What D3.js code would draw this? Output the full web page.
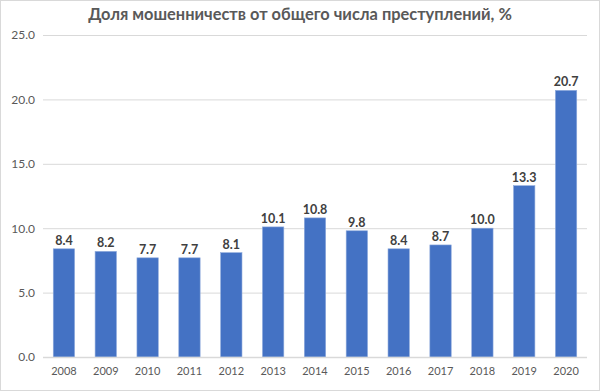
<!DOCTYPE html>
<html lang="ru">
<head>
    <meta charset="UTF-8">
    <title>Доля мошенничеств</title>
    <script src="https://cdn.jsdelivr.net/npm/d3@7/dist/d3.min.js"></script>
    <style>
        body { margin: 0; background: #fff; }
        svg { display: block; font-family: Lato, "Open Sans", sans-serif; }
    </style>
</head>
<body>
    <svg width="600" height="391"></svg>

    <script>
        const years = ['2008', '2009', '2010', '2011', '2012', '2013', '2014',
                       '2015', '2016', '2017', '2018', '2019', '2020'];
        const shares = [8.4, 8.2, 7.7, 7.7, 8.1, 10.1, 10.8, 9.8, 8.4, 8.7, 10.0, 13.3, 20.7];
        const yTicks = [0, 5, 10, 15, 20, 25];
        const title = 'Доля мошенничеств от общего числа преступлений, %';

        const svg = d3.select('svg');
        const margin = {top: 35, right: 13, bottom: 34, left: 43};
        const width = 600 - margin.left - margin.right;
        const height = 391 - margin.top - margin.bottom;

        // chart frame
        svg.append('rect')
            .attr('x', 0.5).attr('y', 0.5)
            .attr('width', 599).attr('height', 390)
            .attr('fill', '#fff')
            .attr('stroke', '#d9d9d9');

        svg.append('text')
            .attr('x', 300).attr('y', 20)
            .attr('text-anchor', 'middle')
            .attr('font-size', 16.4)
            .attr('font-weight', 'bold')
            .attr('fill', '#595959')
            .text(title);

        const g = svg.append('g')
            .attr('transform', `translate(${margin.left}, ${margin.top})`);

        const x = d3.scaleBand().domain(years).range([0, width]).paddingInner(0.49).paddingOuter(0.245);
        const y = d3.scaleLinear().domain([0, 25]).range([height, 0]);

        const yAxis = g.append('g')
            .call(d3.axisLeft(y).tickValues(yTicks).tickFormat(d3.format('.1f')).tickSize(-width).tickPadding(8));
        yAxis.select('.domain').remove();
        yAxis.selectAll('line').attr('stroke', '#d9d9d9');
        yAxis.selectAll('text').attr('fill', '#595959').attr('font-size', 12)
            .attr('font-family', 'Lato, "Open Sans", sans-serif');

        g.selectAll('rect.bar')
            .data(shares).enter().append('rect')
            .classed('bar', true)
            .attr('x', (d, i) => x(years[i]))
            .attr('y', d => y(d))
            .attr('width', x.bandwidth())
            .attr('height', d => height - y(d))
            .attr('fill', '#4472c4')
            .attr('stroke', '#8eaadc')
            .attr('stroke-width', 0.6);

        // baseline
        g.append('line')
            .attr('x1', 0).attr('x2', width)
            .attr('y1', height + 0.5).attr('y2', height + 0.5)
            .attr('stroke', '#d9d9d9').attr('stroke-width', 1.5);

        g.selectAll('text.label')
            .data(shares).enter().append('text')
            .classed('label', true)
            .attr('x', (d, i) => x(years[i]) + x.bandwidth() / 2)
            .attr('y', d => y(d) - 4)
            .attr('text-anchor', 'middle')
            .attr('font-size', 12.5)
            .attr('font-weight', 'bold')
            .attr('fill', '#404040')
            .text(d => d.toFixed(1));

        const xAxis = g.append('g')
            .attr('transform', `translate(0, ${height})`)
            .call(d3.axisBottom(x).tickSize(0).tickPadding(10));
        xAxis.select('.domain').remove();
        xAxis.selectAll('text').attr('fill', '#595959').attr('font-size', 11)
            .attr('font-family', 'Lato, "Open Sans", sans-serif');
    </script>
</body>
</html>
